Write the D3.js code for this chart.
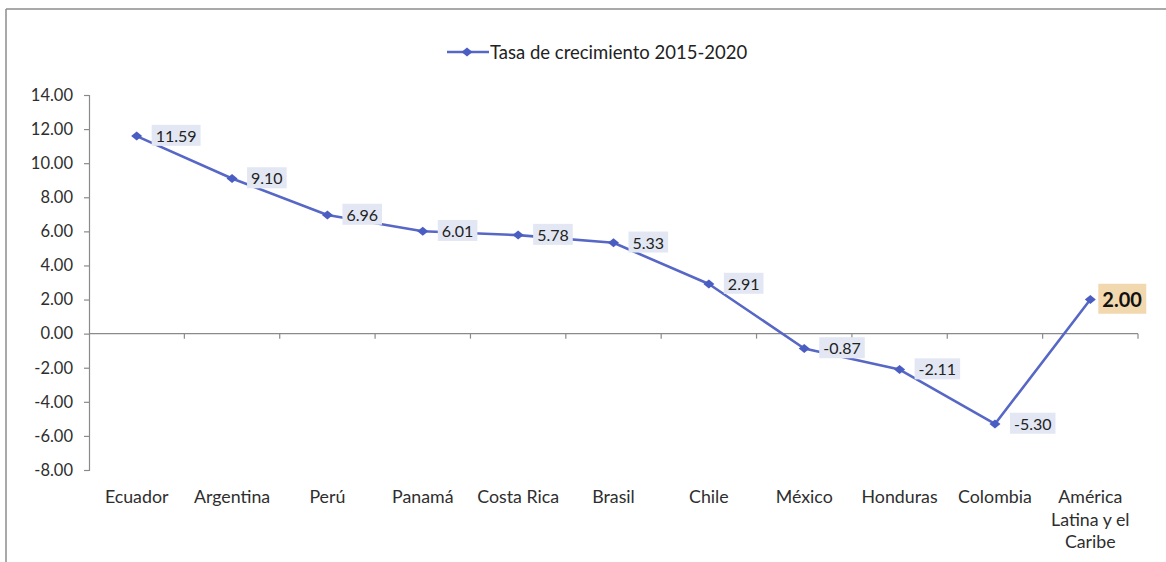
<!DOCTYPE html>
<html>
<head>
<meta charset="utf-8">
<script src="https://cdn.jsdelivr.net/npm/d3@7"></script>
<style>
  html, body { margin: 0; padding: 0; background: #ffffff; }
  svg { display: block; }
  text { font-family: Lato, "Liberation Sans", sans-serif; }
</style>
</head>
<body>
<svg id="chart" width="1166" height="562"></svg>
<script>
// Growth rate 2015-2020 by country
const categories = [
  ["Ecuador"], ["Argentina"], ["Perú"], ["Panamá"], ["Costa Rica"], ["Brasil"],
  ["Chile"], ["México"], ["Honduras"], ["Colombia"], ["América", "Latina y el", "Caribe"]
];
const growth = [11.59, 9.10, 6.96, 6.01, 5.78, 5.33, 2.91, -0.87, -2.11, -5.30, 2.00];
const seriesName = "Tasa de crecimiento 2015-2020";
const yTicks = [14, 12, 10, 8, 6, 4, 2, 0, -2, -4, -6, -8];

const svg = d3.select("#chart");
const W = 1166, H = 562;
const lineColor = "#5767c6";
const markColor = "#4a5dc2";
const textColor = "#2e2e2e";

// number format with plain hyphen for negatives
const fmt = d3.formatLocale({ decimal: ".", thousands: ",", grouping: [3], currency: ["", ""], minus: "-" }).format(".2f");

// outer frame
svg.append("line").attr("x1", 6).attr("x2", W).attr("y1", 9).attr("y2", 9)
  .attr("stroke", "#8c8c8c").attr("stroke-width", 1.5);
svg.append("line").attr("x1", 6).attr("x2", 6).attr("y1", 9).attr("y2", H)
  .attr("stroke", "#8c8c8c").attr("stroke-width", 1.5);

const plot = { left: 89, right: 1138, top: 95, bottom: 470 };

const x = d3.scaleBand()
  .domain(d3.range(categories.length))
  .range([plot.left, plot.right])
  .padding(0);

const y = d3.scaleLinear()
  .domain([-8, 14])
  .range([plot.bottom, plot.top]);

// y axis
const yAxis = d3.axisLeft(y).tickValues(yTicks).tickFormat(fmt).tickSize(5).tickPadding(11);
const gy = svg.append("g").attr("transform", `translate(${plot.left},0)`).call(yAxis);
gy.select(".domain").attr("stroke", "#8a8a8a").attr("stroke-width", 1.2);
gy.selectAll(".tick line").attr("stroke", "#8a8a8a").attr("stroke-width", 1.2);
gy.selectAll(".tick text").attr("font-size", 16.5).attr("fill", textColor)
  .style("font-family", "Lato, 'Liberation Sans', sans-serif");

// x axis at zero line, ticks at category boundaries
const y0 = y(0);
svg.append("line").attr("x1", plot.left).attr("x2", plot.right).attr("y1", y0).attr("y2", y0)
  .attr("stroke", "#8a8a8a").attr("stroke-width", 1.2);
svg.append("g").selectAll("line")
  .data(d3.range(1, categories.length + 1))
  .join("line")
  .attr("x1", i => x(i - 1) + x.bandwidth()).attr("x2", i => x(i - 1) + x.bandwidth())
  .attr("y1", y0).attr("y2", y0 + 5)
  .attr("stroke", "#8a8a8a").attr("stroke-width", 1.2);

// category labels below the plot
const catG = svg.append("g");
categories.forEach((lines, i) => {
  const cx = x(i) + x.bandwidth() / 2;
  const t = catG.append("text")
    .attr("x", cx)
    .attr("y", 503)
    .attr("text-anchor", "middle")
    .attr("font-size", 17.8)
    .attr("fill", textColor);
  lines.forEach((ln, j) => {
    t.append("tspan").attr("x", cx).attr("dy", j === 0 ? 0 : 22.5).text(ln);
  });
});

// series line
const px = i => x(i) + x.bandwidth() / 2;
const line = d3.line().x((d, i) => px(i)).y(d => y(d));
svg.append("path").datum(growth)
  .attr("d", line)
  .attr("fill", "none")
  .attr("stroke", lineColor)
  .attr("stroke-width", 2.6)
  .attr("stroke-linejoin", "round");

// flat diamond markers
const flatDiamond = {
  draw(ctx, size) {
    const w = 5.5, h = 4.5;
    ctx.moveTo(-w, 0); ctx.lineTo(0, -h); ctx.lineTo(w, 0); ctx.lineTo(0, h); ctx.closePath();
  }
};
const diamond = d3.symbol().type(flatDiamond);
svg.append("g").selectAll("path")
  .data(growth)
  .join("path")
  .attr("d", diamond)
  .attr("transform", (d, i) => `translate(${px(i)},${y(d)})`)
  .attr("fill", markColor);

// data labels with filled boxes
const labG = svg.append("g");
growth.forEach((v, i) => {
  const last = i === growth.length - 1;
  const g = labG.append("g");
  const tx = px(i) + (last ? 12 : 19);
  const t = g.append("text")
    .attr("x", tx)
    .attr("y", y(v))
    .attr("dy", "0.36em")
    .attr("font-size", last ? 20 : 16)
    .attr("font-weight", last ? "bold" : "normal")
    .attr("fill", last ? "#111" : "#222")
    .text(fmt(v));
  const bb = t.node().getBBox();
  const padX = 4, padY = last ? 3 : 1;
  g.insert("rect", "text")
    .attr("x", bb.x - padX)
    .attr("y", bb.y - padY)
    .attr("width", bb.width + padX * 2)
    .attr("height", bb.height + padY * 2)
    .attr("fill", last ? "#f2d8ae" : "#e2e7f3");
});

// legend
const lg = svg.append("g");
lg.append("line").attr("x1", 447).attr("x2", 489).attr("y1", 52).attr("y2", 52)
  .attr("stroke", lineColor).attr("stroke-width", 2.6);
lg.append("path").attr("d", diamond).attr("transform", "translate(467,52)").attr("fill", markColor);
lg.append("text").attr("x", 490).attr("y", 52).attr("dy", "0.36em")
  .attr("font-size", 18.5).attr("fill", "#222").text(seriesName);
</script>
</body>
</html>
